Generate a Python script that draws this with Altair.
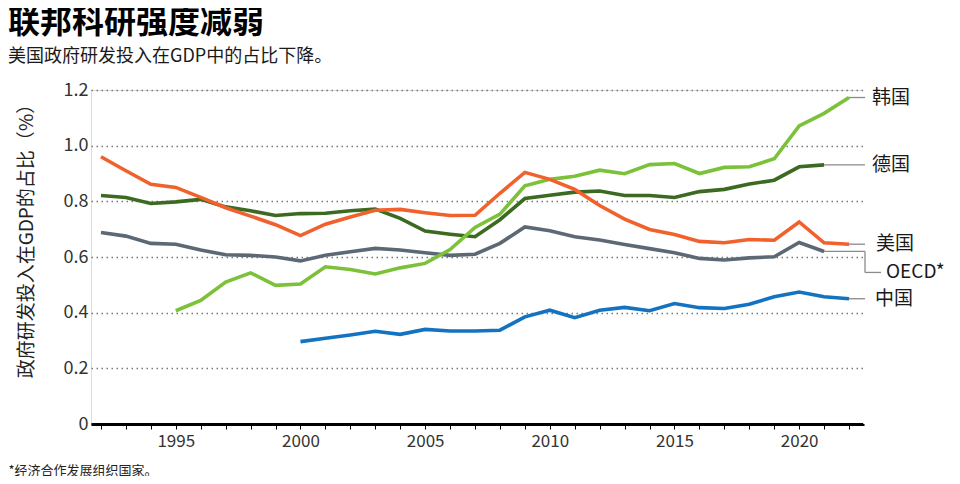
import altair as alt
import pandas as pd

FONT = "Noto Sans CJK SC"

# ---- data ----
names = ["OECD*", "德国", "韩国", "中国", "美国"]
colors = ["#5d6875", "#3b6a20", "#7cc13a", "#1473c0", "#f0612b"]

oecd_years = list(range(1992, 2022))
oecd = [0.688, 0.675, 0.649, 0.646, 0.625, 0.608, 0.606, 0.600, 0.586, 0.606,
        0.619, 0.631, 0.625, 0.615, 0.606, 0.610, 0.649, 0.708, 0.694, 0.673,
        0.661, 0.645, 0.630, 0.615, 0.595, 0.589, 0.597, 0.601, 0.652, 0.620]

germany_years = list(range(1992, 2022))
germany = [0.821, 0.814, 0.792, 0.798, 0.807, 0.780, 0.766, 0.749, 0.756, 0.757,
           0.766, 0.772, 0.739, 0.693, 0.682, 0.673, 0.734, 0.810, 0.822, 0.833,
           0.837, 0.821, 0.821, 0.814, 0.835, 0.843, 0.862, 0.876, 0.924, 0.931]

korea_years = list(range(1995, 2023))
korea = [0.407, 0.444, 0.510, 0.543, 0.498, 0.503, 0.565, 0.555, 0.539, 0.561,
         0.577, 0.627, 0.706, 0.754, 0.856, 0.879, 0.890, 0.912, 0.899, 0.932,
         0.936, 0.900, 0.922, 0.924, 0.953, 1.071, 1.116, 1.173]

china_years = list(range(2000, 2023))
china = [0.296, 0.308, 0.320, 0.333, 0.322, 0.340, 0.334, 0.334, 0.337, 0.385,
         0.409, 0.382, 0.409, 0.419, 0.407, 0.433, 0.418, 0.415, 0.430, 0.457,
         0.474, 0.457, 0.450]

usa_years = list(range(1992, 2023))
usa = [0.960, 0.910, 0.861, 0.850, 0.814, 0.777, 0.747, 0.716, 0.677, 0.718,
       0.744, 0.768, 0.771, 0.759, 0.749, 0.750, 0.829, 0.904, 0.879, 0.843,
       0.785, 0.736, 0.699, 0.681, 0.656, 0.651, 0.663, 0.660, 0.726, 0.651,
       0.646]

y_ticks = [0, 0.2, 0.4, 0.6, 0.8, 1.0, 1.2]
x_ticks = list(range(1992, 2023))

series = [
    ("OECD*", oecd_years, oecd),
    ("德国", germany_years, germany),
    ("韩国", korea_years, korea),
    ("中国", china_years, china),
    ("美国", usa_years, usa),
]

# ---- layout ----
W, H = 773, 334
X_DOMAIN = [1991.6, 2022.6]
X_END = X_DOMAIN[1] + 0.04
label_dx = {"韩国": 8, "德国": 8, "美国": 12, "OECD*": 22, "中国": 11}
oecd_drop = 21
CONN = "#8a8a8a"

rows = []
for name, yrs, vals in series:
    for yr, v in zip(yrs, vals):
        rows.append({"name": name, "year": yr, "value": v})
df = pd.DataFrame(rows)

label_df = pd.DataFrame(
    [{"name": n, "year": yrs[-1], "value": vals[-1]} for n, yrs, vals in series]
)
# connector segments: from each line's last point to the plot's right edge
conn_df = pd.DataFrame(
    [{"name": n, "year": yr, "value": vals[-1]}
     for n, yrs, vals in series for yr in (yrs[-1], X_END)]
)

x_scale = alt.Scale(domain=X_DOMAIN, nice=False, zero=False)
y_scale = alt.Scale(domain=[0, 1.2], nice=False, zero=True)
color_scale = alt.Scale(domain=names, range=colors)

x_axis = alt.Axis(
    values=x_ticks, format="d",
    labelExpr="datum.value % 5 === 0 ? datum.label : ''",
    labelOverlap=False, labelFlush=False,
    tickSize=5, tickColor="#000", tickWidth=1,
    domainColor="#000", domainWidth=3,
    labelFontSize=17, labelColor="#333", labelPadding=4, labelFont=FONT,
    grid=False,
    title="*经济合作发展组织国家。", titleFont=FONT, titleFontSize=13,
    titleFontWeight="normal", titleAnchor="start", titleAlign="left",
    titleX=-83, titleY=46, titleBaseline="middle", titleColor="#222",
)
y_axis = alt.Axis(
    values=y_ticks,
    labelExpr="datum.value === 0 ? '0' : format(datum.value, '.1f')",
    tickSize=0, domain=False, grid=True,
    gridDash=[1.5, 3.5], gridColor="#777", gridWidth=1.5,
    labelPadding=3, labelFontSize=18, labelColor="#333", labelFont=FONT,
    title="政府研发投入在GDP的占比（%）", titleFont=FONT, titleFontSize=19,
    titleFontWeight="normal", titleColor="#222", titlePadding=27, titleY=146,
)

X = lambda f: alt.X(f, scale=x_scale, axis=x_axis)
Y = lambda f: alt.Y(f, scale=y_scale, axis=y_axis)

# white mask along the plot's right edge (hides any frame line there)
mask = alt.Chart(label_df).mark_rule(color="white", strokeWidth=2.5).encode(
    x=alt.value(W + 1)
)

base = alt.Chart(df)
layers = []
for name, _, _ in series:
    layers.append(
        base.transform_filter(alt.datum.name == name)
        .mark_line(strokeWidth=3.6)
        .encode(
            x=X("year:Q"), y=Y("value:Q"),
            color=alt.Color("name:N", scale=color_scale, legend=None),
        )
    )

conn = alt.Chart(conn_df).mark_line(color=CONN, strokeWidth=1.3).encode(
    x=X("year:Q"), y=Y("value:Q"), detail="name:N",
)

lab = alt.Chart(label_df)
oecd_only = lab.transform_filter(alt.datum.name == "OECD*")
# elbow of the OECD connector: a vertical and a horizontal leg
oecd_v = oecd_only.mark_tick(
    color=CONN, orient="vertical", size=oecd_drop, thickness=1.3,
    yOffset=oecd_drop / 2, opacity=1,
).encode(x=alt.value(W + 1), y=Y("value:Q"))
oecd_h = oecd_only.mark_tick(
    color=CONN, orient="horizontal", size=16, thickness=1.3,
    xOffset=8, yOffset=oecd_drop, opacity=1,
).encode(x=alt.value(W + 1), y=Y("value:Q"))

text_layers = []
for name, _, _ in series:
    dy = oecd_drop if name == "OECD*" else 0
    text_layers.append(
        lab.transform_filter(alt.datum.name == name)
        .mark_text(align="left", baseline="middle", fontSize=19, font=FONT,
                   color="#1a1a1a", dx=label_dx[name], dy=dy)
        .encode(x=alt.value(W), y=Y("value:Q"), text="name:N")
    )

chart = alt.layer(mask, conn, oecd_v, oecd_h, *layers, *text_layers).properties(
    width=W, height=H,
    autosize=alt.AutoSizeParams(type="none"),
    padding={"left": 83, "top": 82, "right": 88, "bottom": 52},
    title=alt.TitleParams(
        text="联邦科研强度减弱",
        subtitle="美国政府研发投入在GDP中的占比下降。",
        anchor="start", frame="group", dx=-83, offset=14,
        font=FONT, fontSize=32, fontWeight="bold", color="#000",
        subtitleFont=FONT, subtitleFontSize=18, subtitleColor="#1a1a1a",
        subtitlePadding=8,
    ),
).configure_view(strokeWidth=0, stroke="transparent").configure(font=FONT, background="white")

chart.save("out.html", embed_options={"renderer": "svg", "actions": False})
